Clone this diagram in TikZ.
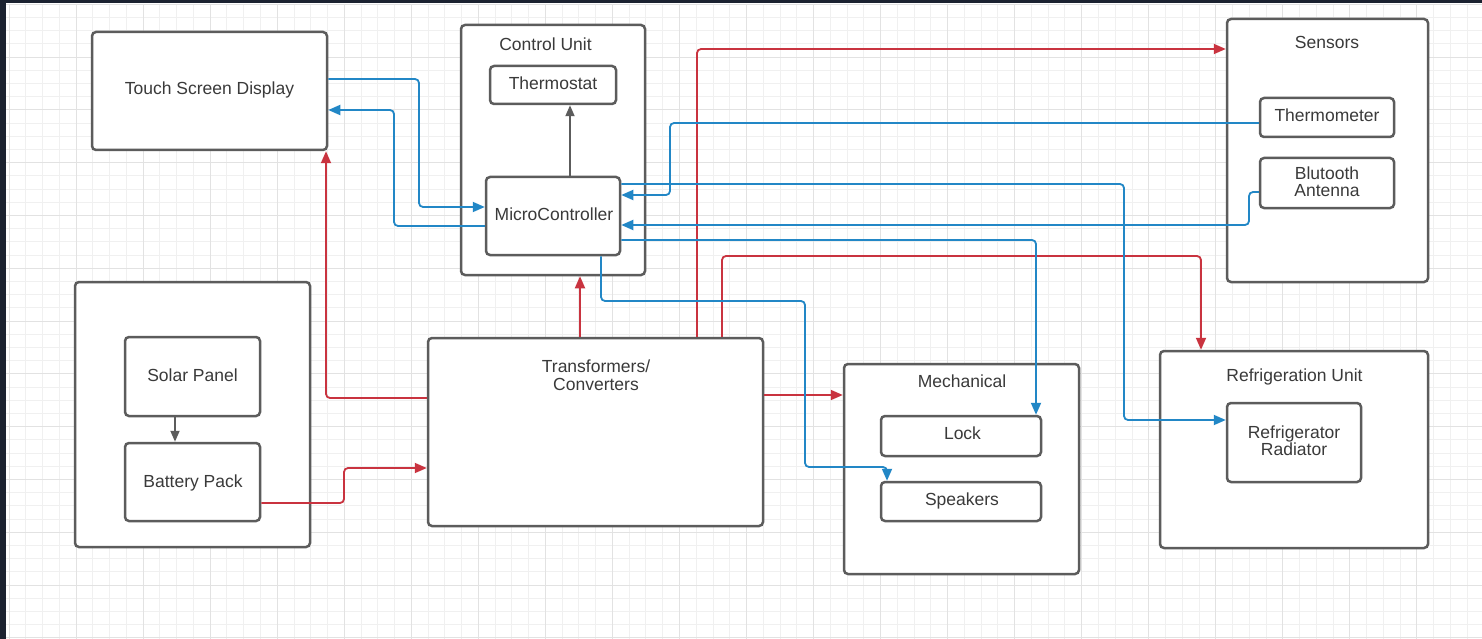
\documentclass[tikz,border=0pt]{standalone}
\usepackage{fontspec}
\setmainfont{Liberation Sans}
\usetikzlibrary{arrows.meta}
\definecolor{boxc}{HTML}{5C5C5C}
\definecolor{txtc}{HTML}{3A3A3A}
\definecolor{bluc}{HTML}{2287C6}
\definecolor{redc}{HTML}{C9333F}
\definecolor{grayc}{HTML}{5C5C5C}
\definecolor{gridminor}{HTML}{F0F0F0}
\definecolor{gridmajor}{HTML}{E2E2E2}
\definecolor{darkband}{HTML}{1B2230}
\begin{document}
\begin{tikzpicture}[x=1pt,y=-1pt,
  box/.style={draw=boxc, line width=2.5pt, rounded corners=4pt, fill=white, inner sep=0pt},
  lbl/.style={text=txtc, font=\fontsize{17.5}{17.5}\selectfont, inner sep=0pt, text height=12.4pt, text depth=0pt},
  lbl2/.style={text=txtc, font=\fontsize{17.5}{17.5}\selectfont, inner sep=0pt, align=center},
  bl/.style={draw=bluc, line width=1.8pt, rounded corners=4pt, -{Triangle[length=12pt,width=10pt]}, fill=none},
  rd/.style={draw=redc, line width=1.8pt, rounded corners=4pt, -{Triangle[length=12pt,width=10pt]}, fill=none},
  gr/.style={draw=grayc, line width=1.8pt, -{Triangle[length=11pt,width=9pt]}, fill=none}
]
\useasboundingbox (0,0) rectangle (1482,639);
% background and grid
\fill[white] (0,0) rectangle (1482,639);
\foreach \i in {0,...,88} {\draw[gridminor, line width=0.8pt] (9+16.76*\i,4) -- (9+16.76*\i,639);}
\foreach \j in {0,...,48} {\draw[gridminor, line width=0.8pt] (6,4.2+13.2*\j) -- (1482,4.2+13.2*\j);}
\foreach \i in {0,4,...,88} {\draw[gridmajor, line width=0.9pt] (9+16.76*\i,4) -- (9+16.76*\i,639);}
\foreach \j in {0,4,...,48} {\draw[gridmajor, line width=0.9pt] (6,4.2+13.2*\j) -- (1482,4.2+13.2*\j);}
\fill[darkband] (0,0) rectangle (1482,3.5);
\fill[darkband] (0,0) rectangle (6,639);

% container boxes
\node[box, minimum width=235pt, minimum height=118pt] (tsd) at (209.5,91) {};
\node[box, minimum width=184pt, minimum height=250pt] (cu) at (553,150) {};
\node[box, minimum width=201pt, minimum height=263pt] (sens) at (1327.5,150.5) {};
\node[box, minimum width=235pt, minimum height=265pt] (pwr) at (192.5,414.5) {};
\node[box, minimum width=335pt, minimum height=188pt] (tc) at (595.5,432) {};
\node[box, minimum width=235pt, minimum height=210pt] (mech) at (961.5,469) {};
\node[box, minimum width=268pt, minimum height=197pt] (ref) at (1294,449.5) {};
% inner boxes
\node[box, minimum width=126pt, minimum height=38pt] (thermostat) at (553,85) {};
\node[box, minimum width=134pt, minimum height=78pt] (mc) at (553,216) {};
\node[box, minimum width=134pt, minimum height=39pt] (thermo) at (1327,117.5) {};
\node[box, minimum width=134pt, minimum height=50pt] (bt) at (1327,183) {};
\node[box, minimum width=135pt, minimum height=79pt] (solar) at (192.5,376.5) {};
\node[box, minimum width=135pt, minimum height=78pt] (batt) at (192.5,482) {};
\node[box, minimum width=160pt, minimum height=40pt] (lock) at (961,436) {};
\node[box, minimum width=160pt, minimum height=39pt] (spk) at (961,501.5) {};
\node[box, minimum width=134pt, minimum height=79pt] (rad) at (1294,442.5) {};

% labels
\node[lbl] (tsdt) at (209.5,88.5) {Touch Screen Display};
\node[lbl] (cut) at (545.5,44) {Control Unit};
\node[lbl] (tht) at (553,83) {Thermostat};
\node[lbl] (mct) at (554,214) {MicroController};
\node[lbl] (senst) at (1327,42) {Sensors};
\node[lbl] (thmt) at (1327,115) {Thermometer};
\node[lbl2] (btt) at (1327,181.5) {Blutooth\\Antenna};
\node[lbl] (solt) at (192.5,375) {Solar Panel};
\node[lbl] (battt) at (193,481) {Battery Pack};
\node[lbl2] (tct) at (596,375) {Transformers/\\Converters};
\node[lbl] (mecht) at (962,381) {Mechanical};
\node[lbl] (lockt) at (962.5,433) {Lock};
\node[lbl] (spkt) at (962,499) {Speakers};
\node[lbl] (reft) at (1294.5,375) {Refrigeration Unit};
\node[lbl2] (radt) at (1294,440.5) {Refrigerator\\Radiator};

% red connectors
\draw[rd] (tc.north -| 697,0) -- (697,49) -- (sens.west |- 0,49);
\draw[rd] (tc.north -| 722,0) -- (722,256) -- (1201,256) -- (1201,0 |- ref.north);
\draw[rd] (tc.north -| 580,0) -- (580,0 |- cu.south);
\draw[rd] (tc.west |- 0,398) -- (326,398) -- (326,0 |- tsd.south);
\draw[rd] (batt.east |- 0,503) -- (344,503) -- (344,468) -- (tc.west |- 0,468);
\draw[rd] (tc.east |- 0,395) -- (mech.west |- 0,395);

% blue connectors
\draw[bl] (tsd.east |- 0,79) -- (419,79) -- (419,207) -- (mc.west |- 0,207);
\draw[bl] (mc.west |- 0,226) -- (394,226) -- (394,110) -- (tsd.east |- 0,110);
\draw[bl] (thermo.west |- 0,123) -- (670,123) -- (670,195) -- (mc.east |- 0,195);
\draw[bl] (mc.east |- 0,184) -- (1124,184) -- (1124,420) -- (rad.west |- 0,420);
\draw[bl] (bt.west |- 0,192) -- (1249,192) -- (1249,225) -- (mc.east |- 0,225);
\draw[bl] (mc.east |- 0,240) -- (1036,240) -- (1036,0 |- lock.north);
\draw[bl] (mc.south -| 601,0) -- (601,301) -- (805,301) -- (805,467) -- (887,467) -- (887,0 |- spk.north);

% gray connectors
\draw[gr] (mc.north -| 570,0) -- (570,0 |- thermostat.south);
\draw[gr] (solar.south -| 175,0) -- (175,0 |- batt.north);
\end{tikzpicture}
\end{document}
